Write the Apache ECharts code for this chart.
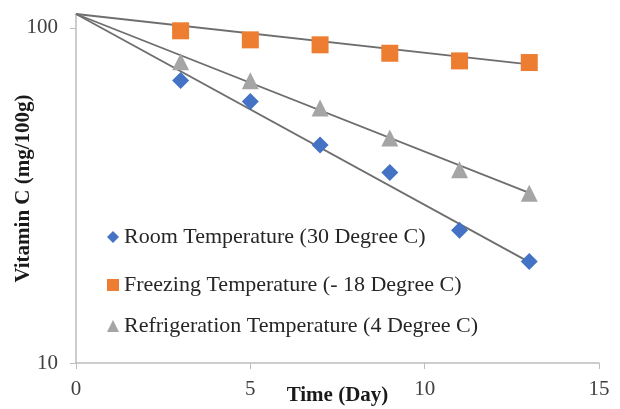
<!DOCTYPE html>
<html>
<head>
<meta charset="utf-8">
<script src="https://cdn.jsdelivr.net/npm/echarts@6/dist/echarts.min.js"></script>
<style>
  html, body { margin: 0; padding: 0; background: #fff; }
  #chart { width: 620px; height: 409px; }
</style>
</head>
<body>
<div id="chart"></div>
<script>
// ---- data ----
const days = [3, 5, 7, 9, 11, 13];
const roomTemp = [69.6, 60.3, 44.7, 37.0, 24.9, 20.1];
const freezingTemp = [98.0, 92.1, 89.0, 84.0, 79.7, 78.8];
const refrigerationTemp = [79.3, 69.5, 57.7, 46.9, 37.7, 32.1];
const trendDays = [0, 13];
const roomTrend = [110, 20.0];
const freezingTrend = [110, 77.8];
const refrigerationTrend = [110, 32.2];
const seriesNames = [
  'Room Temperature (30 Degree C)',
  'Freezing Temperature (- 18 Degree C)',
  'Refrigeration Temperature (4 Degree C)'
];
const xTicks = [0, 5, 10, 15];
const yTicks = [10, 100];

const pairs = (xs, ys) => xs.map((x, i) => [x, ys[i]]);
const FONT = 'Liberation Serif';
const trendStyle = { color: '#6e6e6e', width: 1.8 };

function trend(ys) {
  return {
    type: 'line', data: pairs(trendDays, ys), symbol: 'none',
    lineStyle: trendStyle, clip: false, silent: true, z: 1
  };
}

const chart = echarts.init(document.getElementById('chart'), null, { renderer: 'canvas' });
const legendBase = {
  left: 107, itemWidth: 12, itemHeight: 12, padding: 0,
  textStyle: { fontFamily: FONT, fontSize: 22, color: '#262626' }
};
chart.setOption({
  animation: false,
  backgroundColor: '#ffffff',
  grid: { left: 76, right: 21, top: 14, bottom: 46, containLabel: false, outerBoundsMode: 'none' },
  legend: [
    Object.assign({ top: 226, data: [seriesNames[0]] }, legendBase),
    Object.assign({ top: 274, data: [seriesNames[1]] }, legendBase),
    Object.assign({ top: 315, data: [seriesNames[2]] }, legendBase)
  ],
  xAxis: {
    type: 'value', min: xTicks[0], max: xTicks[xTicks.length - 1], interval: 5,
    name: 'Time (Day)', nameLocation: 'middle', nameGap: 22, nameMoveOverlap: false,
    nameTextStyle: { fontFamily: FONT, fontSize: 21, fontWeight: 'bold', color: '#1a1a1a' },
    axisLine: { lineStyle: { color: '#bdbdbd', width: 1.5 } },
    axisTick: { show: true, inside: false, length: 6, lineStyle: { color: '#bdbdbd' } },
    axisLabel: { fontFamily: FONT, fontSize: 21, color: '#404040', margin: 16 },
    splitLine: { show: false }
  },
  yAxis: {
    type: 'log', logBase: 10, min: 10, max: 110,
    name: 'Vitamin C (mg/100g)', nameLocation: 'middle', nameGap: 42, nameMoveOverlap: false,
    nameTextStyle: { fontFamily: FONT, fontSize: 21, fontWeight: 'bold', color: '#1a1a1a' },
    axisLine: { show: true, lineStyle: { color: '#bdbdbd', width: 1.5 } },
    axisTick: { show: true, inside: false, length: 6, lineStyle: { color: '#bdbdbd' }, customValues: yTicks },
    axisLabel: { fontFamily: FONT, fontSize: 21, color: '#404040', margin: 18, customValues: yTicks },
    minorTick: { show: false },
    splitLine: { show: false }
  },
  series: [
    trend(roomTrend),
    trend(freezingTrend),
    trend(refrigerationTrend),
    {
      name: seriesNames[0], type: 'scatter', data: pairs(days, roomTemp),
      symbol: 'diamond', symbolSize: [17, 17], itemStyle: { color: '#4472C4', opacity: 1 }, z: 3
    },
    {
      name: seriesNames[1], type: 'scatter', data: pairs(days, freezingTemp),
      symbol: 'rect', symbolSize: 17, itemStyle: { color: '#ED7D31', opacity: 1 }, z: 3
    },
    {
      name: seriesNames[2], type: 'scatter', data: pairs(days, refrigerationTemp),
      symbol: 'triangle', symbolSize: 17, itemStyle: { color: '#A5A5A5', opacity: 1 }, z: 3
    }
  ]
});
</script>
</body>
</html>
